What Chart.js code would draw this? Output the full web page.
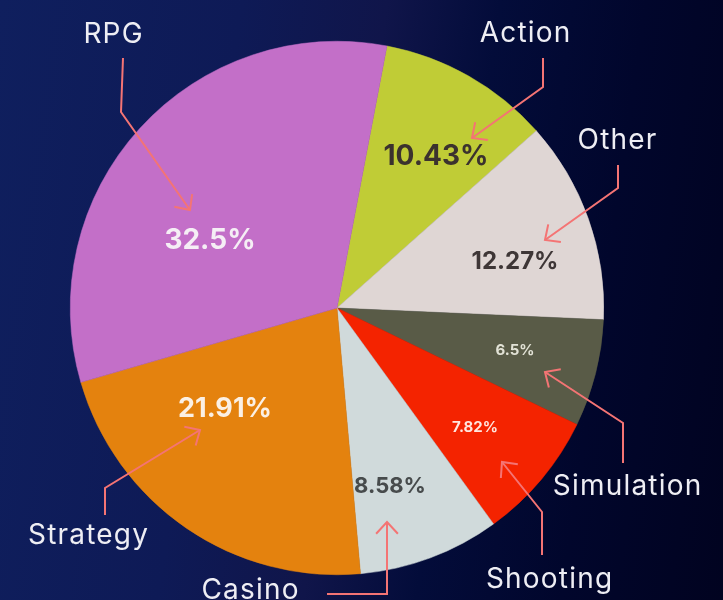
<!DOCTYPE html>
<html>
<head>
<meta charset="utf-8">
<title>Game genres</title>
<script src="https://cdn.jsdelivr.net/npm/chart.js@4.4.1/dist/chart.umd.min.js"></script>
<style>
    html, body {
        margin: 0;
        padding: 0;
        width: 723px;
        height: 600px;
        overflow: hidden;
        background: linear-gradient(98deg, #0f1f5e 0%, #0e1a56 30%, #10154a 48%, #030c3a 62%, #01062c 80%, #010320 100%);
    }
    #genreChart { display: block; }
</style>
</head>
<body>
<canvas id="genreChart" width="723" height="600"></canvas>
<script>
// Data, clockwise from the RPG / Action boundary
const genres = ['Action', 'Other', 'Simulation', 'Shooting', 'Casino', 'Strategy', 'RPG'];
const shares = [10.43, 12.27, 6.5, 7.82, 8.58, 21.91, 32.5];
const shareLabels = ['10.43%', '12.27%', '6.5%', '7.82%', '8.58%', '21.91%', '32.5%'];
const sliceColors = ['#c0cc36', '#dfd6d4', '#595b47', '#f42300', '#d0dadb', '#e4820e', '#c36fc8'];

// Callout layout, offsets in px from the pie centre
const valueStyle = [
    { dx: 99, dy: -143, size: 28, color: '#3b322e' },
    { dx: 178, dy: -39, size: 24, color: '#3e3636' },
    { dx: 178, dy: 47, size: 15, color: '#e2e2d6' },
    { dx: 138, dy: 124, size: 15, color: '#ffe6de' },
    { dx: 53, dy: 185, size: 22, color: '#474b4c' },
    { dx: -112, dy: 109, size: 27, color: '#fbf0e4' },
    { dx: -127, dy: -59, size: 28, color: '#f5eef5' }
];
const nameStyle = [
    { dx: 188, dy: -266, arrow: [[206, -250], [206, -221], [135, -170]] },
    { dx: 280, dy: -159, arrow: [[281, -143], [281, -120], [208, -68]] },
    { dx: 290, dy: 187, arrow: [[286, 155], [286, 115], [208, 64]] },
    { dx: 212, dy: 280, arrow: [[205, 247], [205, 204], [165, 154]] },
    { dx: -87, dy: 291, arrow: [[-10, 286], [50, 286], [50, 214]] },
    { dx: -249, dy: 236, arrow: [[-232, 207], [-232, 180], [-137, 122]] },
    { dx: -224, dy: -265, arrow: [[-214, -250], [-216, -196], [-147, -98]] }
];

const calloutPlugin = {
    id: 'callouts',
    afterDatasetsDraw(chart) {
        const ctx = chart.ctx;
        const arcs = chart.getDatasetMeta(0).data;
        if (!arcs.length) return;
        const cx = arcs[0].x;
        const cy = arcs[0].y;

        ctx.save();
        ctx.textAlign = 'center';
        ctx.textBaseline = 'alphabetic';

        // percentage inside each slice
        arcs.forEach((arc, i) => {
            const s = valueStyle[i];
            ctx.font = `700 ${s.size}px Inter, "Noto Sans", sans-serif`;
            ctx.fillStyle = s.color;
            ctx.fillText(shareLabels[i], cx + s.dx, cy + s.dy);
        });

        // genre names and arrows
        ctx.font = '400 28px Inter, "Noto Sans", sans-serif';
        ctx.letterSpacing = '1.2px';
        ctx.fillStyle = '#eeeef4';
        ctx.strokeStyle = '#f47474';
        ctx.lineWidth = 2;
        ctx.lineJoin = 'miter';
        arcs.forEach((arc, i) => {
            const n = nameStyle[i];
            ctx.fillText(genres[i], cx + n.dx + 0.6, cy + n.dy);

            const pts = n.arrow.map(p => [cx + p[0], cy + p[1]]);
            ctx.beginPath();
            ctx.moveTo(pts[0][0], pts[0][1]);
            for (let k = 1; k < pts.length; k++) ctx.lineTo(pts[k][0], pts[k][1]);
            ctx.stroke();

            // arrow head
            const tip = pts[pts.length - 1];
            const prev = pts[pts.length - 2];
            const ang = Math.atan2(tip[1] - prev[1], tip[0] - prev[0]);
            const len = 16;
            const spread = Math.PI / 4.2;
            ctx.beginPath();
            ctx.moveTo(tip[0] - len * Math.cos(ang - spread), tip[1] - len * Math.sin(ang - spread));
            ctx.lineTo(tip[0], tip[1]);
            ctx.lineTo(tip[0] - len * Math.cos(ang + spread), tip[1] - len * Math.sin(ang + spread));
            ctx.stroke();
        });
        ctx.restore();
    }
};

const chart = new Chart(document.getElementById('genreChart'), {
    type: 'pie',
    data: {
        labels: genres,
        datasets: [{
            data: shares,
            backgroundColor: sliceColors,
            borderColor: sliceColors,
            borderWidth: 0.5
        }]
    },
    options: {
        responsive: false,
        animation: false,
        rotation: 10.8,
        layout: {
            padding: { left: 70, right: 119, top: 41, bottom: 25 }
        },
        plugins: {
            legend: { display: false },
            tooltip: { enabled: false }
        }
    },
    plugins: [calloutPlugin]
});
</script>
</body>
</html>
